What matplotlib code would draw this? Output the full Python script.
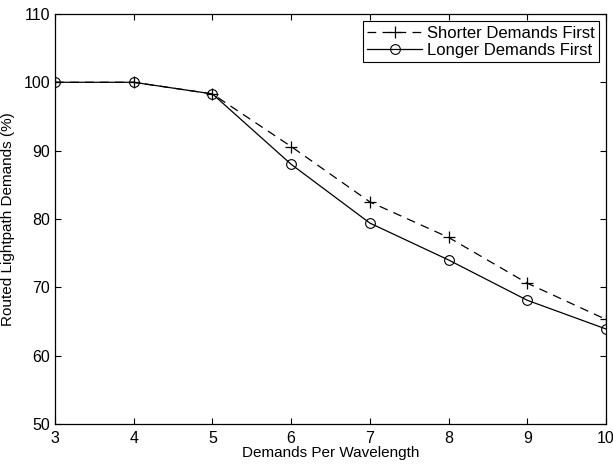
import matplotlib
matplotlib.use("Agg")
import matplotlib.pyplot as plt

plt.rcParams["font.family"] = ["Liberation Sans", "DejaVu Sans"]

# data
demands = [3, 4, 5, 6, 7, 8, 9, 10]
shorter_first = [100.0, 100.0, 98.3, 90.6, 82.5, 77.3, 70.6, 65.3]
longer_first = [100.0, 100.0, 98.3, 88.0, 79.4, 74.0, 68.1, 63.9]

fig = plt.figure(figsize=(6.13, 4.65), dpi=100)
ax = fig.add_axes([0.0897, 0.0882, 0.8989, 0.8818])

ax.plot(demands, shorter_first, "k--", marker="+", markersize=8,
        markeredgewidth=0.9, linewidth=0.9, dashes=(7, 5),
        label="Shorter Demands First")
ax.plot(demands, longer_first, "k-", marker="o", markersize=7,
        markerfacecolor="none", markeredgewidth=0.8, linewidth=0.9,
        label="Longer Demands First")

ax.set_xlim(3, 10)
ax.set_ylim(50, 110)
ax.set_xticks(demands)
ax.set_yticks(range(50, 111, 10))
ax.tick_params(direction="in", top=True, right=True, labelsize=11.5, length=4)
ax.tick_params(axis="x", pad=5)
for s in ax.spines.values():
    s.set_linewidth(0.9)

ax.set_xlabel("Demands Per Wavelength", fontsize=11, labelpad=0)
ax.set_ylabel("Routed Lightpath Demands (%)", fontsize=11, labelpad=6)

leg = ax.legend(loc="upper right", fontsize=12, fancybox=False,
                edgecolor="black", framealpha=1, borderaxespad=0.45,
                handlelength=3.3, handletextpad=0.25, borderpad=0.25,
                labelspacing=0.15)
leg.get_frame().set_linewidth(0.8)

fig.savefig("out.png", dpi=100)
